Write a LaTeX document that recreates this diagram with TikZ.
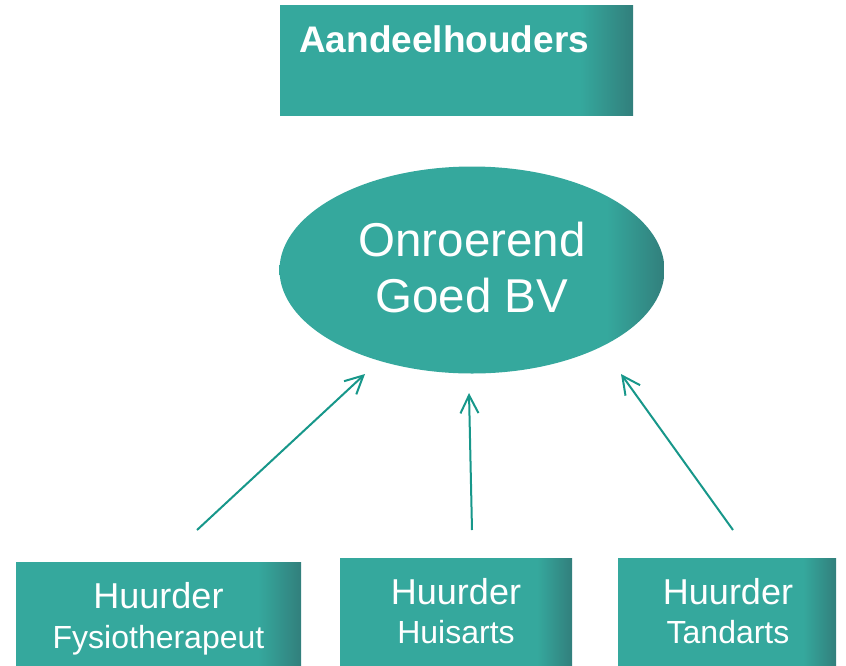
\documentclass[tikz,border=0pt]{standalone}
\usepackage{fontspec}
\setmainfont{Liberation Sans}
\usetikzlibrary{arrows.meta,shapes.geometric}
\definecolor{tealA}{HTML}{35A89D}
\definecolor{tealB}{HTML}{327F7C}
\definecolor{arrowc}{HTML}{17978A}
\pgfdeclarehorizontalshading{tealgrad}{100bp}{color(0bp)=(tealA); color(25bp)=(tealA); color(67.5bp)=(tealA); color(75bp)=(tealB); color(100bp)=(tealB)}
\tikzset{
  gradbox/.style={shading=tealgrad, shading angle=0, draw=none, inner sep=0pt},
  wtext/.style={text=white, inner sep=0pt},
  conn/.style={draw=arrowc, line width=2pt, -{Straight Barb[length=18pt,width=18pt,line width=2pt]}}
}
\begin{document}
\begin{tikzpicture}[x=1pt,y=-1pt]
\useasboundingbox (0,0) rectangle (846,665);
% top box
\node[gradbox, minimum width=353pt, minimum height=110pt] (top) at (456.5,60) {};
\node[wtext, anchor=base west, font=\fontsize{37}{44}\selectfont\bfseries] (toptxt) at (299,52) {Aandeelhouders};
% ellipse
\node[ellipse, gradbox, minimum width=385pt, minimum height=207pt] (bv) at (472,270) {};
\node[wtext, anchor=base, font=\fontsize{47.5}{56}\selectfont] (bv1) at (472,256) {Onroerend};
\node[wtext, anchor=base, font=\fontsize{47.5}{56}\selectfont] (bv2) at (472,312) {Goed BV};
% bottom boxes
\node[gradbox, minimum width=285pt, minimum height=103pt] (b1) at (158.5,613.5) {};
\node[gradbox, minimum width=232pt, minimum height=107pt] (b2) at (456,611.5) {};
\node[gradbox, minimum width=218pt, minimum height=107pt] (b3) at (727,611.5) {};
\node[wtext, anchor=base, font=\fontsize{36}{40}\selectfont] (b1a) at (158.5,608) {Huurder};
\node[wtext, anchor=base, font=\fontsize{32}{36}\selectfont] (b1b) at (158.5,648) {Fysiotherapeut};
\node[wtext, anchor=base, font=\fontsize{36}{40}\selectfont] (b2a) at (456,604) {Huurder};
\node[wtext, anchor=base, font=\fontsize{32}{36}\selectfont] (b2b) at (456,643) {Huisarts};
\node[wtext, anchor=base, font=\fontsize{36}{40}\selectfont] (b3a) at (728,604) {Huurder};
\node[wtext, anchor=base, font=\fontsize{32}{36}\selectfont] (b3b) at (728,643) {Tandarts};
% arrows
\coordinate (a1s) at (197,530);
\coordinate (a1e) at (365,374);
\coordinate (a2s) at (472,530);
\coordinate (a2e) at (469,393);
\coordinate (a3s) at (733,530);
\coordinate (a3e) at (621,374);
\draw[conn] (a1s) -- (a1e);
\draw[conn] (a2s) -- (a2e);
\draw[conn] (a3s) -- (a3e);
\end{tikzpicture}
\end{document}
